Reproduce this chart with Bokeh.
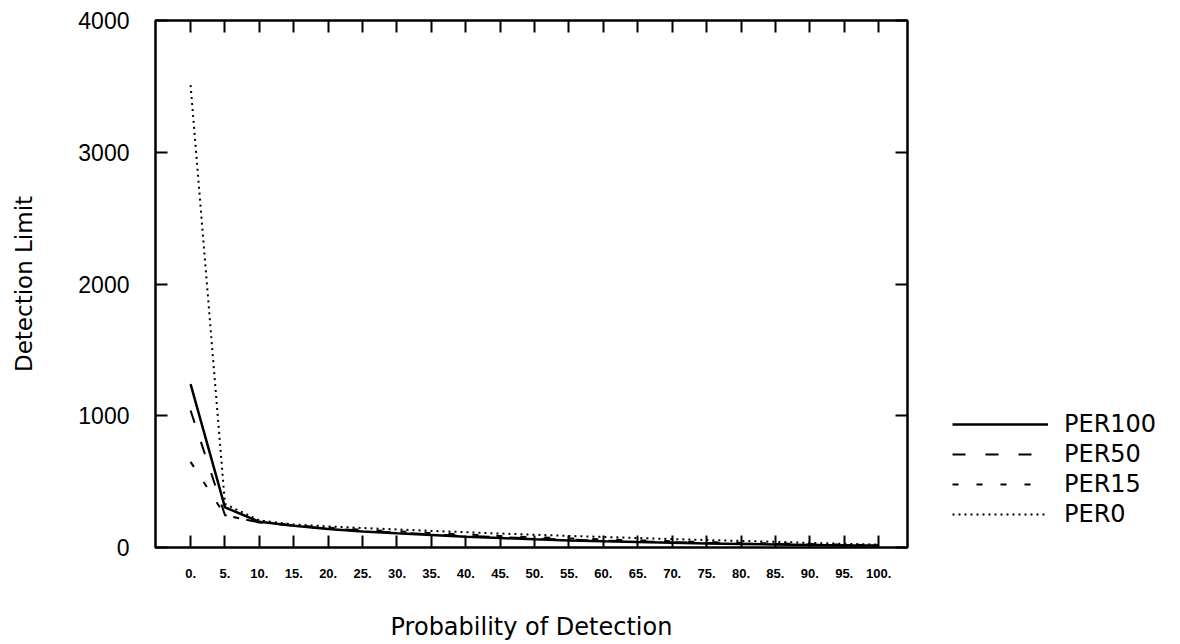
from bokeh.plotting import figure
from bokeh.models import Range1d, LinearAxis, FixedTicker, Legend, LegendItem
from bokeh.layouts import row
from bokeh.embed import file_html
from bokeh.resources import INLINE

# ---- data ----
prob = [0, 5, 10, 15, 20, 25, 30, 35, 40, 45, 50, 55, 60, 65, 70, 75, 80, 85, 90, 95, 100]
per100 = [1240, 305, 195, 165, 140, 122, 108, 95, 82, 72, 62, 54, 47, 41, 36, 31, 27, 23, 19, 16, 15]
per50 = [1040, 245, 190, 165, 145, 128, 113, 100, 88, 78, 68, 60, 52, 46, 40, 35, 30, 26, 22, 18, 15]
per15 = [650, 245, 190, 168, 150, 135, 122, 110, 98, 88, 78, 69, 61, 54, 47, 41, 36, 31, 26, 21, 18]
per0 = [3510, 330, 205, 175, 160, 148, 137, 126, 116, 106, 97, 88, 80, 72, 64, 57, 50, 43, 35, 28, 22]
series_names = ["PER100", "PER50", "PER15", "PER0"]
x_ticks = prob
x_labels = [f"{v}." for v in prob]
y_ticks = [0, 1000, 2000, 3000, 4000]

FONT = "Liberation Sans"
LFONT = "DejaVu Sans"

p = figure(width=915, height=644, output_backend="svg", toolbar_location=None,
           x_range=Range1d(-5.1, 104.2), y_range=Range1d(0, 4000),
           min_border_left=155, min_border_right=8, min_border_top=20, min_border_bottom=97)
p.grid.visible = False
p.outline_line_color = "black"
p.outline_line_width = 2.5
p.background_fill_color = "white"
p.border_fill_color = "white"

# bottom axis
xa = p.xaxis[0]
xa.ticker = FixedTicker(ticks=x_ticks)
xa.major_label_overrides = {t: l for t, l in zip(x_ticks, x_labels)}
xa.major_tick_in = 12
xa.major_tick_out = 0
xa.major_tick_line_width = 2
xa.minor_tick_line_color = None
xa.axis_line_color = None
xa.major_label_standoff = 21
xa.major_label_text_font = FONT
xa.major_label_text_font_size = "13px"
xa.major_label_text_font_style = "bold"
xa.major_label_text_color = "black"
xa.axis_label = "Probability of Detection"
xa.axis_label_text_font = LFONT
xa.axis_label_text_font_size = "24px"
xa.axis_label_text_font_style = "normal"
xa.axis_label_text_color = "black"
xa.axis_label_standoff = 32

# left axis
ya = p.yaxis[0]
ya.ticker = FixedTicker(ticks=y_ticks)
ya.major_tick_in = 12
ya.major_tick_out = 0
ya.major_tick_line_width = 2
ya.minor_tick_line_color = None
ya.axis_line_color = None
ya.major_label_standoff = 26
ya.major_label_text_font = FONT
ya.major_label_text_font_size = "23px"
ya.major_label_text_color = "black"
ya.axis_label = "Detection Limit"
ya.axis_label_text_font = LFONT
ya.axis_label_text_font_size = "23px"
ya.axis_label_text_font_style = "normal"
ya.axis_label_text_color = "black"
ya.axis_label_standoff = 38

# top / right axes (ticks only)
ta = LinearAxis(ticker=FixedTicker(ticks=x_ticks), major_tick_in=12, major_tick_out=0,
                major_tick_line_width=2, minor_tick_line_color=None, axis_line_color=None,
                major_label_overrides={t: "" for t in x_ticks}, major_label_standoff=0)
p.add_layout(ta, "above")
ra = LinearAxis(ticker=FixedTicker(ticks=y_ticks), major_tick_in=12, major_tick_out=0,
                major_tick_line_width=2, minor_tick_line_color=None, axis_line_color=None,
                major_label_overrides={t: "" for t in y_ticks}, major_label_standoff=0)
p.add_layout(ra, "right")

dashes = ["solid", "13 20", "6 18", "2 4"]
widths = [2.5, 2, 2, 2]
for ys, d, w in zip([per100, per50, per15, per0], dashes, widths):
    p.line(prob, ys, line_color="black", line_width=w, line_dash=d)

# legend panel (legend-only renderers hold a single NaN point, so they draw nothing)
lp = figure(width=265, height=644, output_backend="svg", toolbar_location=None,
            x_range=Range1d(0, 1), y_range=Range1d(0, 1),
            x_axis_location=None, y_axis_location=None, min_border=0)
lp.grid.visible = False
lp.outline_line_color = None
lp.background_fill_color = "white"
lp.border_fill_color = "white"
items = []
for name, d, w in zip(series_names, dashes, widths):
    r = lp.line(x=[float("nan")], y=[float("nan")], line_color="black", line_width=w, line_dash=d)
    items.append(LegendItem(label=name, renderers=[r]))
legend = Legend(items=items, location=(37, 19), glyph_width=96, glyph_height=20,
                spacing=2, label_standoff=16, label_text_font=LFONT,
                label_text_font_size="24px", label_text_color="black",
                border_line_color=None, background_fill_alpha=0, padding=0, margin=0)
lp.add_layout(legend, "center")

layout = row(p, lp)
open("out.html", "w").write(file_html(layout, INLINE))
